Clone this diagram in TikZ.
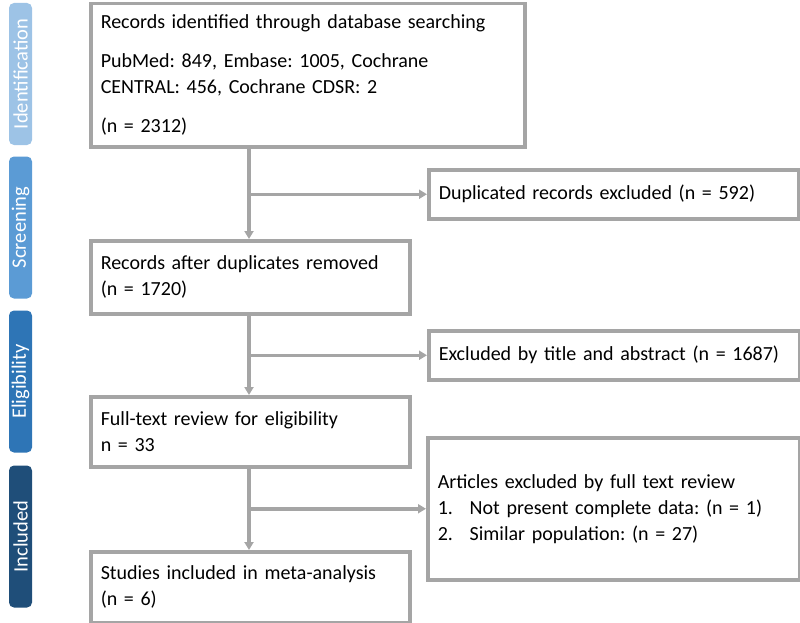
\documentclass[tikz,border=0pt]{standalone}
\usepackage{fontspec}
\setmainfont{Carlito}
\usetikzlibrary{arrows.meta}
\definecolor{linegray}{RGB}{165,165,165}
\definecolor{idblue}{RGB}{157,195,230}
\definecolor{screenblue}{RGB}{91,155,213}
\definecolor{eligblue}{RGB}{46,117,182}
\definecolor{inclblue}{RGB}{31,78,121}
\newcommand{\num}[1]{\makebox[32pt][l]{#1}}
\frenchspacing

\begin{document}
\begin{tikzpicture}[x=1pt, y=-1pt,
    box/.style={draw=linegray, line width=3.5pt, rectangle, anchor=north west, inner xsep=10pt, inner ysep=0pt, align=left, font=\fontsize{20}{26}\selectfont},
    side/.style={rectangle, rounded corners=5pt, rotate=90, minimum width=142pt, minimum height=23pt, inner sep=0pt, text=white, font=\fontsize{20.5}{24}\selectfont},
    arrow/.style={draw=linegray, line width=3.5pt, -{Triangle[length=8pt, width=9pt]}}]
    \useasboundingbox (0,0) rectangle (800,623);

    % Side labels
    \node[side, fill=idblue] (side-1) at (20.5,74) {Identification};
    \node[side, fill=screenblue] (side-2) at (20.5,227.5) {Screening};
    \node[side, fill=eligblue] (side-3) at (20.5,381.5) {Eligibility};
    \node[side, fill=inclblue] (side-4) at (20.5,536.5) {Included};

    % Main column
    \node[box, text width=414pt, minimum height=143pt] (box-id) at (89,2) {Records identified through database searching\\[13pt]PubMed: 849, Embase: 1005, Cochrane\\CENTRAL: 456, Cochrane CDSR: 2\\[13pt](n = 2312)};
    \node[box, text width=299pt, minimum height=73pt] (box-screen) at (89,239) {Records after duplicates removed\\(n = 1720)};
    \node[box, text width=299pt, minimum height=70pt] (box-full) at (89,395) {Full-text review for eligibility\\n = 33};
    \node[box, text width=299pt, minimum height=71pt] (box-incl) at (89,550) {Studies included in meta-analysis\\(n = 6)};

    % Excluded column
    \node[box, text width=350pt, minimum height=49pt] (box-dup) at (427,168) {Duplicated records excluded (n = 592)};
    \node[box, text width=351pt, minimum height=49pt] (box-excl) at (427,329) {Excluded by title and abstract (n = 1687)};
    \node[box, text width=352pt, minimum height=142pt] (box-art) at (426,436) {Articles excluded by full text review\\\num{1.}Not present complete data: (n = 1)\\\num{2.}Similar population: (n = 27)};

    % Connectors
    \coordinate (spine) at (249,0);
    \draw[arrow] (spine |- box-id.south) -- (spine |- box-screen.north);
    \draw[arrow] (spine |- box-screen.south) -- (spine |- box-full.north);
    \draw[arrow] (spine |- box-full.south) -- (spine |- box-incl.north);
    \draw[arrow] (spine |- box-dup.west) -- (box-dup.west);
    \draw[arrow] (spine |- box-excl.west) -- (box-excl.west);
    \draw[arrow] (spine |- box-art.west) -- (box-art.west);

\end{tikzpicture}
\end{document}
